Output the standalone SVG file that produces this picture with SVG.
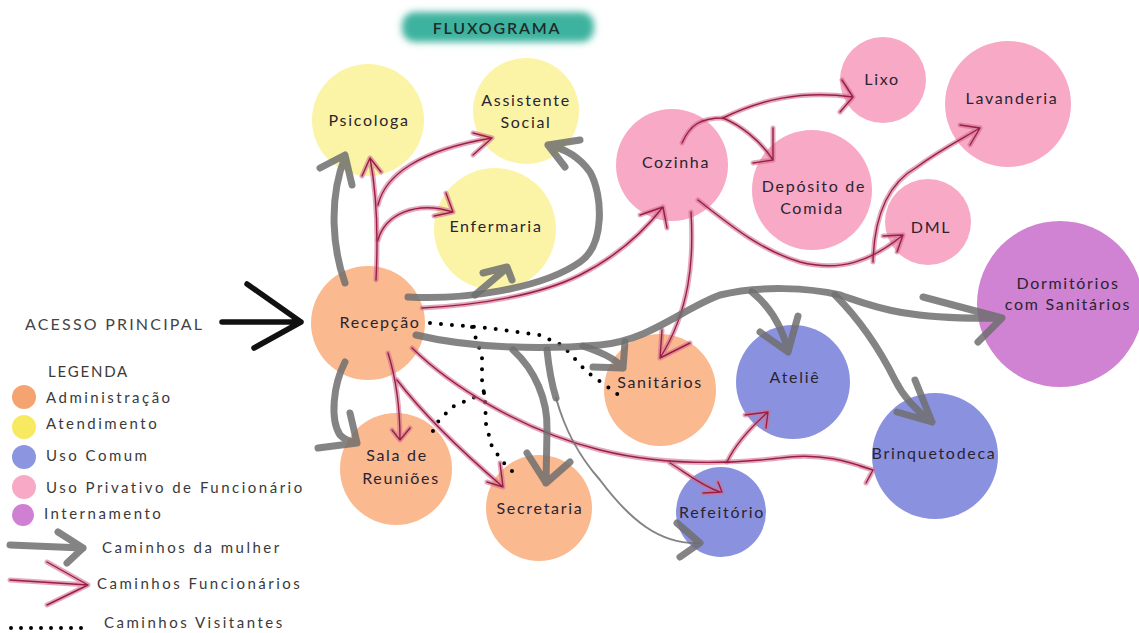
<svg xmlns="http://www.w3.org/2000/svg" xmlns:xlink="http://www.w3.org/1999/xlink" width="1139" height="633" viewBox="0 0 1139 633">
<style>
.bg{fill:#ffffff}
.adm{fill:#FAB98F}
.ate{fill:#FBF4A6}
.com{fill:#8A92E0}
.pri{fill:#F8A9C5}
.int{fill:#D083D2}
.lbl{font-family:Lato,"Liberation Sans",sans-serif;font-size:16px;fill:#2a2430;text-anchor:middle;letter-spacing:1.7px}
.leg{font-family:Lato,"Liberation Sans",sans-serif;font-size:15px;fill:#3a3a3a;letter-spacing:2.5px}
.g{fill:none;stroke:#6e6e6e;stroke-opacity:0.85;stroke-width:7;stroke-linecap:round;stroke-linejoin:round}
.gt{fill:none;stroke:#6e6e6e;stroke-opacity:0.85;stroke-width:2;stroke-linecap:round}
.rg{fill:none;stroke:#cf7090;stroke-opacity:0.6;stroke-width:5;stroke-linecap:round;stroke-linejoin:round}
.rd{fill:none;stroke:#9c1d44;stroke-width:1.4;stroke-linecap:round;stroke-linejoin:round}
.dot{fill:none;stroke:#000;stroke-width:4;stroke-linecap:round;stroke-dasharray:0 11}
</style>
<defs>
<filter id="brush" x="-10%" y="-40%" width="120%" height="180%"><feGaussianBlur stdDeviation="3.5"/></filter>
<path id="r1" d="M376,280 C378,240 378,200 370,158 M362,176 L370,158 L381,172"/>
<path id="r2" d="M378,205 C385,175 420,150 492,138 M473,133 L492,138 L473,155"/>
<path id="r3" d="M378,240 C385,215 415,200 453,212 M446,193 L453,212 L434,216"/>
<path id="r4" d="M422,308 C480,305 540,295 580,275 C620,255 645,230 663,207 M640,215 L663,207 L667,228"/>
<path id="r5" d="M682,143 C690,125 700,118 723,118 C760,100 800,90 853,97 M842,80 L853,97 L840,112"/>
<path id="r6" d="M723,118 C740,125 760,140 773,160 M773,128 L773,160 L753,163"/>
<path id="r7" d="M698,200 C730,225 760,250 800,262 C840,272 870,262 903,235 M883,236 L903,235 L897,252"/>
<path id="r8" d="M873,262 C874,220 885,185 917,167 C940,150 960,140 980,128 M960,125 L980,128 L970,145"/>
<path id="r9" d="M691,212 C694,260 690,310 660,358 M662,330 L660,358 L690,343"/>
<path id="r10" d="M388,353 C395,375 400,400 400,440 M392,430 L400,440 L410,428"/>
<path id="r11" d="M397,380 C420,410 460,450 503,487 M500,463 L503,487 L487,482"/>
<path id="r12" d="M412,348 C450,385 520,430 600,450 C660,465 720,465 780,458 C820,452 850,462 873,470 M866,483 L873,470 L860,466"/>
<path id="r13" d="M670,463 C685,472 700,485 720,492 M703,493 L722,492 L718,482"/>
<path id="r14" d="M727,462 C735,445 750,428 768,412 M745,415 L768,412 L766,428"/>
<path id="rl" d="M10,580 L88,585 M47,562 L88,585 L47,605"/>
</defs>
<rect class="bg" x="0" y="0" width="1139" height="633"/>

<g id="title">
<rect x="402" y="12" width="192" height="30" rx="13" fill="#3DB39F" filter="url(#brush)"/>
<text x="497" y="34" style="font-family:Lato,'Liberation Sans',sans-serif;font-size:16px;font-weight:600;fill:#1e2a2a;text-anchor:middle;letter-spacing:1.8px">FLUXOGRAMA</text>
</g>

<g id="nodes">
<g id="psicologa"><circle class="ate" cx="368" cy="120" r="56"/><text class="lbl" x="369" y="126">Psicologa</text></g>
<g id="assistente-social"><circle class="ate" cx="526" cy="111" r="53"/><text class="lbl" x="526" y="106">Assistente</text><text class="lbl" x="526" y="128">Social</text></g>
<g id="enfermaria"><circle class="ate" cx="495" cy="229" r="61"/><text class="lbl" x="496" y="232">Enfermaria</text></g>
<g id="recepcao"><circle class="adm" cx="368" cy="323" r="57"/><text class="lbl" x="380" y="328">Recepção</text></g>
<g id="cozinha"><circle class="pri" cx="672" cy="165" r="56"/><text class="lbl" x="676" y="168">Cozinha</text></g>
<g id="deposito"><circle class="pri" cx="812" cy="190" r="60"/><text class="lbl" x="814" y="192">Depósito de</text><text class="lbl" x="812" y="214">Comida</text></g>
<g id="lixo"><circle class="pri" cx="883" cy="80" r="43"/><text class="lbl" x="882" y="85">Lixo</text></g>
<g id="lavanderia"><circle class="pri" cx="1008" cy="104" r="63"/><text class="lbl" x="1012" y="104">Lavanderia</text></g>
<g id="dml"><circle class="pri" cx="928" cy="222" r="43"/><text class="lbl" x="931" y="233">DML</text></g>
<g id="dormitorios"><circle class="int" cx="1060" cy="304" r="83"/><text class="lbl" x="1068" y="289">Dormitórios</text><text class="lbl" x="1068" y="310">com Sanitários</text></g>
<g id="sanitarios"><circle class="adm" cx="660" cy="390" r="56"/><text class="lbl" x="660" y="388">Sanitários</text></g>
<g id="atelie"><circle class="com" cx="793" cy="382" r="57"/><text class="lbl" x="795" y="383">Ateliê</text></g>
<g id="brinquetodeca"><circle class="com" cx="935" cy="456" r="63"/><text class="lbl" x="934" y="459">Brinquetodeca</text></g>
<g id="refeitorio"><circle class="com" cx="721" cy="512" r="45"/><text class="lbl" x="722" y="518">Refeitório</text></g>
<g id="secretaria"><circle class="adm" cx="539" cy="508" r="53"/><text class="lbl" x="540" y="514">Secretaria</text></g>
<g id="sala-reunioes"><circle class="adm" cx="396" cy="469" r="56"/><text class="lbl" x="397" y="461">Sala de</text><text class="lbl" x="401" y="484">Reuniões</text></g>
</g>

<g id="connectors">
<g id="visitantes">
<path class="dot" d="M430,323 L488,328 L539,335 L562,345 L587,372 L624,399"/>
<path class="dot" d="M472,327 L482,356 L482,380 L485,400 L486,424 L492,447 L503,462 L519,478"/>
<path class="dot" d="M484,393 L452,407 L436,424 L430,438"/>
</g>
<g id="funcionarios-glow">
<use xlink:href="#r1" class="rg"/><use xlink:href="#r2" class="rg"/><use xlink:href="#r3" class="rg"/><use xlink:href="#r4" class="rg"/><use xlink:href="#r5" class="rg"/><use xlink:href="#r6" class="rg"/><use xlink:href="#r7" class="rg"/><use xlink:href="#r8" class="rg"/><use xlink:href="#r9" class="rg"/><use xlink:href="#r10" class="rg"/><use xlink:href="#r11" class="rg"/><use xlink:href="#r12" class="rg"/><use xlink:href="#r13" class="rg"/><use xlink:href="#r14" class="rg"/>
</g>
<g id="funcionarios">
<use xlink:href="#r1" class="rd"/><use xlink:href="#r2" class="rd"/><use xlink:href="#r3" class="rd"/><use xlink:href="#r4" class="rd"/><use xlink:href="#r5" class="rd"/><use xlink:href="#r6" class="rd"/><use xlink:href="#r7" class="rd"/><use xlink:href="#r8" class="rd"/><use xlink:href="#r9" class="rd"/><use xlink:href="#r10" class="rd"/><use xlink:href="#r11" class="rd"/><use xlink:href="#r12" class="rd"/><use xlink:href="#r13" class="rd"/><use xlink:href="#r14" class="rd"/>
</g>
<g id="mulher">
<path class="g" d="M345,283 C333,250 328,200 345,157 M320,168 L345,155 L352,185"/>
<path class="g" d="M408,297 C460,300 540,290 580,262 C605,245 603,195 590,172 C578,155 562,148 548,145 M548,145 L580,140 M548,145 L565,167"/>
<path class="g" d="M475,295 L507,268 M483,273 L507,267 L512,280"/>
<path class="g" d="M416,335 C470,348 540,350 600,345 C650,340 680,310 720,295 C760,285 810,288 840,295 C870,305 900,320 1000,318 M923,297 L1002,318 L978,342"/>
<path class="g" d="M752,292 C768,305 782,325 788,352 M760,332 L788,352 L798,316"/>
<path class="g" d="M835,295 C860,320 880,350 895,380 C905,400 918,412 932,422 M897,412 L932,422 L915,380"/>
<path class="g" d="M583,346 C600,352 615,358 623,368 M593,367 L623,368 L625,342"/>
<path class="g" d="M513,350 C535,370 548,400 547,430 L546,483 M527,453 L546,483 L570,462"/>
<path class="g" d="M547,350 C549,370 552,385 556,398"/>
<path class="gt" d="M556,398 C565,430 578,455 600,480 C630,520 660,545 700,543"/>
<path class="g" d="M677,523 L700,543 L680,557"/>
<path class="g" d="M345,362 C333,385 330,420 340,435 C345,440 350,442 357,443 M318,448 L357,443 L350,413"/>
</g>
</g>

<g id="acesso">
<text class="leg" x="25" y="330" style="font-size:16px;fill:#444;letter-spacing:2.2px">ACESSO PRINCIPAL</text>
<path d="M222,322 L301,322 M247,284 L301,322 L254,348" fill="none" stroke="#111" stroke-width="5.5" stroke-linecap="round" stroke-linejoin="round"/>
</g>

<g id="legenda">
<text class="leg" x="48" y="377" style="letter-spacing:1.8px">LEGENDA</text>
<circle cx="24" cy="397" r="12" fill="#F5A371"/><text class="leg" x="46" y="403">Administração</text>
<circle cx="24" cy="427" r="12" fill="#F8EA60"/><text class="leg" x="46" y="429">Atendimento</text>
<circle cx="24" cy="457" r="12" fill="#8C95DF"/><text class="leg" x="46" y="461">Uso Comum</text>
<circle cx="24" cy="487" r="12" fill="#F8A9C5"/><text class="leg" x="46" y="493">Uso Privativo de Funcionário</text>
<circle cx="23" cy="515" r="11" fill="#CF80D3"/><text class="leg" x="44" y="519">Internamento</text>
<path class="g" d="M10,545 L83,548 M58,532 L83,548 L67,563"/>
<text class="leg" x="102" y="553">Caminhos da mulher</text>
<use xlink:href="#rl" class="rg"/><use xlink:href="#rl" class="rd"/>
<text class="leg" x="97" y="589">Caminhos Funcionários</text>
<path class="dot" d="M11,628 L82,628" style="stroke-dasharray:0 10"/>
<text class="leg" x="104" y="628">Caminhos Visitantes</text>
</g>
</svg>
